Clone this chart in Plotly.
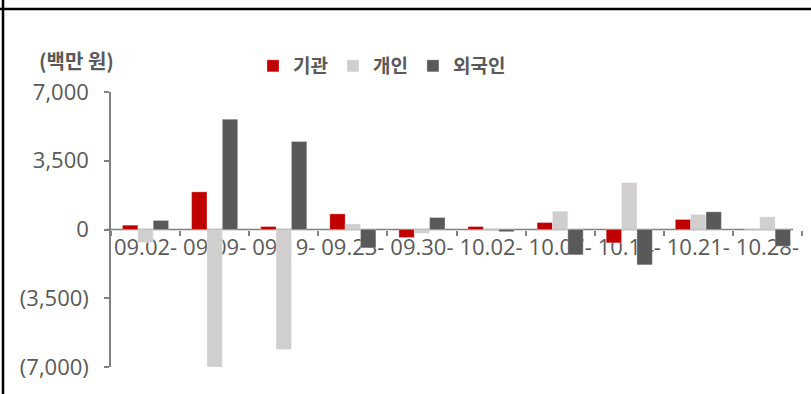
import plotly.graph_objects as go

# Weekly net buying by investor type (million KRW)
weeks = ["09.02-", "09.09-", "09.19-", "09.23-", "09.30-",
         "10.02-", "10.07-", "10.14-", "10.21-", "10.28-"]
institution = [220, 1915, 150, 795, -410, 150, 355, -680, 510, 0]
individual = [-660, -7000, -6110, 285, -200, -80, 930, 2390, 765, 645]
foreign = [460, 5615, 4480, -935, 610, -110, -1290, -1800, 900, -850]

y_ticks = [-7000, -3500, 0, 3500, 7000]
y_tick_text = ["(7,000)", "(3,500)", "0", "3,500", "7,000"]

GRAY_TEXT = "#595959"
AXIS = "#808080"
FONT = "Open Sans, Noto Sans CJK KR, sans-serif"

fig = go.Figure()
series = [
    ("기관", institution, "#C00000"),
    ("개인", individual, "#D0CECE"),
    ("외국인", foreign, "#595959"),
]
for name, vals, color in series:
    fig.add_trace(go.Bar(
        x=weeks, y=vals, name=name,
        marker=dict(color=color, line=dict(color="rgba(255,255,255,0.5)", width=0.6)),
    ))

L, R, T, B = 111, 9, 92, 27
W, H = 811, 394
pw, ph = W - L - R, H - T - B

def px_x(px):
    return (px - L) / pw

def px_y(py):
    return (H - B - py) / ph

fig.update_layout(
    width=W, height=H,
    margin=dict(l=L, r=R, t=T, b=B, autoexpand=False),
    paper_bgcolor="white", plot_bgcolor="white",
    barmode="group", bargap=0.333, bargroupgap=0,
    font=dict(family=FONT, color=GRAY_TEXT, size=18),
    showlegend=True,
    legend=dict(
        orientation="h", x=px_x(253), xanchor="left", y=px_y(66), yanchor="middle",
        font=dict(size=19, color=GRAY_TEXT, family="Noto Sans CJK KR", weight="bold"),
        itemwidth=30, traceorder="normal", bgcolor="rgba(0,0,0,0)",
    ),
    xaxis=dict(
        type="category", anchor="free", position=0.5,
        showline=False, showgrid=False, zeroline=False,
        ticks="outside", tickson="boundaries", ticklen=5, tickwidth=1.5, tickcolor=AXIS,
        tickfont=dict(size=22, color=GRAY_TEXT, family=FONT, weight=500),
        tickangle=0, automargin=False, ticklabelstandoff=2,
        layer="below traces",
    ),
    yaxis=dict(
        range=[-7000, 7000], tickvals=y_ticks, ticktext=y_tick_text,
        showline=True, linecolor=AXIS, linewidth=1.5, mirror=False,
        ticks="outside", ticklen=5, tickwidth=1.5, tickcolor=AXIS,
        showgrid=False, zeroline=False, automargin=False,
        tickfont=dict(size=22, color=GRAY_TEXT, family=FONT, weight=500),
        ticklabelstandoff=11,
    ),
    annotations=[dict(
        text="(백만 원)", xref="paper", yref="paper",
        x=px_x(76), y=px_y(61), xanchor="center", yanchor="middle",
        showarrow=False,
        font=dict(size=20, color=GRAY_TEXT, family="Noto Sans CJK KR", weight="bold"),
    )],
    shapes=[
        # baseline through zero
        dict(type="line", xref="paper", yref="y", x0=px_x(106), x1=px_x(793), y0=0, y1=0,
             line=dict(color=AXIS, width=1.5), layer="below"),
        # outer frame: top rule and left rule
        dict(type="line", xref="paper", yref="paper", x0=px_x(0), x1=px_x(W), y0=px_y(9), y1=px_y(9),
             line=dict(color="black", width=2.5), layer="above"),
        dict(type="line", xref="paper", yref="paper", x0=px_x(3), x1=px_x(3), y0=px_y(0), y1=px_y(H),
             line=dict(color="black", width=2.5), layer="above"),
    ],
)

fig.write_html("out.html")
